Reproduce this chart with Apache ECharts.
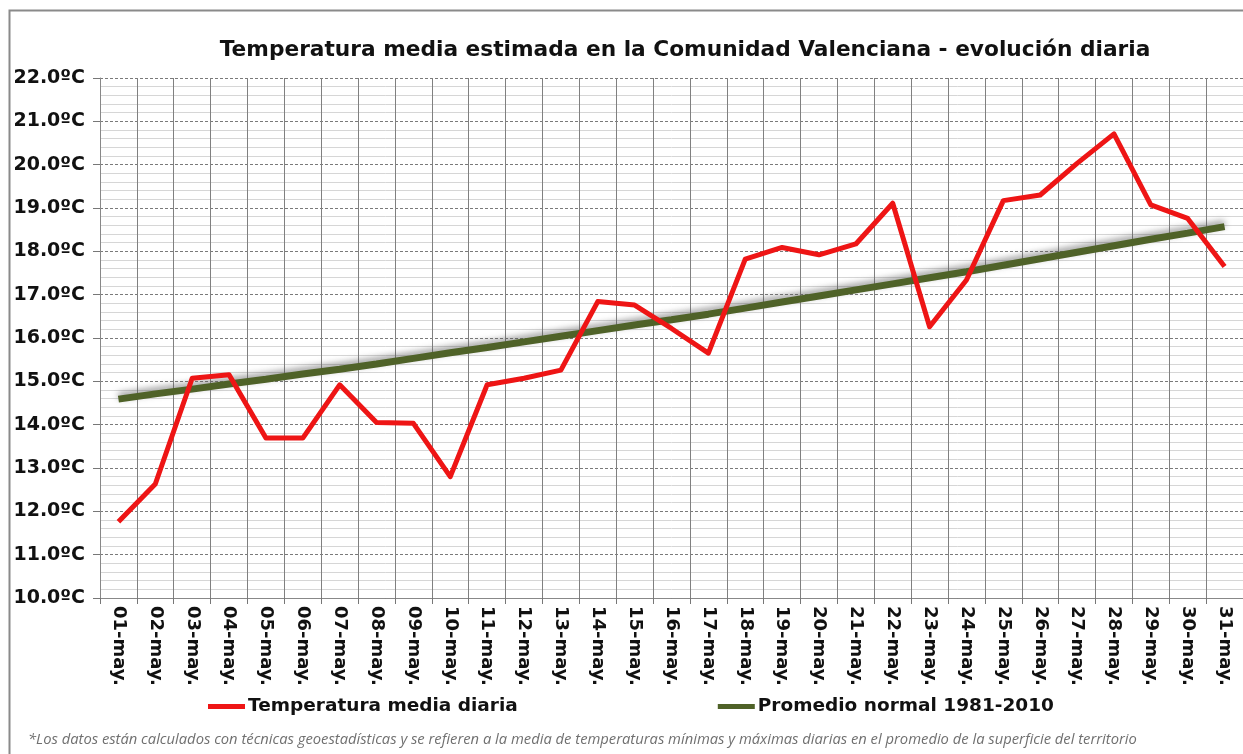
<!DOCTYPE html>
<html>
<head>
<meta charset="utf-8">
<script src="https://cdn.jsdelivr.net/npm/echarts@6/dist/echarts.min.js"></script>
<style>
  html, body { margin: 0; padding: 0; background: #fff; }
  #chart { width: 1243px; height: 754px; }
</style>
</head>
<body>
<div id="chart"></div>
<script>
const days = [
  '01-may.', '02-may.', '03-may.', '04-may.', '05-may.', '06-may.', '07-may.', '08-may.',
  '09-may.', '10-may.', '11-may.', '12-may.', '13-may.', '14-may.', '15-may.', '16-may.',
  '17-may.', '18-may.', '19-may.', '20-may.', '21-may.', '22-may.', '23-may.', '24-may.',
  '25-may.', '26-may.', '27-may.', '28-may.', '29-may.', '30-may.', '31-may.'
];
const dailyMean = [
  11.76, 12.63, 15.07, 15.15, 13.69, 13.69, 14.92, 14.05,
  14.03, 12.80, 14.92, 15.07, 15.26, 16.84, 16.76, 16.22,
  15.65, 17.82, 18.09, 17.92, 18.17, 19.11, 16.26, 17.34,
  19.17, 19.30, 20.03, 20.71, 19.07, 18.76, 17.65
];
const normal8110 = [
  14.59, 14.71, 14.82, 14.94, 15.05, 15.17, 15.28, 15.40,
  15.53, 15.66, 15.78, 15.91, 16.04, 16.17, 16.30, 16.42,
  16.55, 16.69, 16.83, 16.97, 17.11, 17.25, 17.39, 17.53,
  17.68, 17.83, 17.98, 18.13, 18.28, 18.42, 18.57
];
const seriesNames = ['Temperatura media diaria', 'Promedio normal 1981-2010'];
const titleText = 'Temperatura media estimada en la Comunidad Valenciana - evolución diaria';
const footnote = '*Los datos están calculados con técnicas geoestadísticas y se refieren a la media de temperaturas mínimas y máximas diarias en el promedio de la superficie del territorio';

const FONT = 'DejaVu Sans';
const RED = '#ee1515';
const GREEN = '#4f6228';

const chart = echarts.init(document.getElementById('chart'));

const option = {
  backgroundColor: '#fff',
  animation: false,
  title: {
    text: titleText,
    left: 680,
    textAlign: 'center',
    top: 34,
    textStyle: { fontFamily: FONT, fontSize: 21.7, fontWeight: 'bold', color: '#111' }
  },
  legend: {
    data: seriesNames,
    left: 203,
    top: 692,
    itemGap: 200,
    itemWidth: 37,
    itemHeight: 5,
    icon: 'rect',
    textStyle: { fontFamily: FONT, fontSize: 18.5, fontWeight: 'bold', color: '#111', padding: [0, 0, 0, -2] }
  },
  grid: { left: 100, top: 78, width: 1147, height: 520 },
  xAxis: {
    type: 'category',
    data: days,
    boundaryGap: true,
    axisLine: { lineStyle: { color: '#888', width: 1 } },
    axisTick: { show: true, length: 6, lineStyle: { color: '#777' } },
    splitLine: { show: true, interval: 0, lineStyle: { color: '#808080', width: 1 } },
    axisLabel: {
      interval: 0,
      rotate: -90,
      margin: 8,
      fontFamily: FONT,
      fontSize: 18,
      fontWeight: 'bold',
      color: '#111'
    }
  },
  yAxis: {
    type: 'value',
    min: 10,
    max: 22,
    interval: 1,
    axisLine: { show: true, lineStyle: { color: '#888' } },
    axisTick: { show: true, length: 7, lineStyle: { color: '#777' } },
    minorTick: { show: false, splitNumber: 5 },
    minorSplitLine: { show: true, lineStyle: { color: '#d6d6d6', width: 1 } },
    splitLine: { show: true, lineStyle: { color: '#7a7a7a', width: 1, type: [3, 2] } },
    axisLabel: {
      margin: 15,
      fontFamily: FONT,
      fontSize: 19,
      fontWeight: 'bold',
      color: '#111',
      formatter: v => v.toFixed(1) + 'ºC'
    }
  },
  series: [
    {
      name: seriesNames[0],
      type: 'line',
      data: dailyMean,
      symbol: 'none',
      z: 4,
      itemStyle: { color: RED },
      lineStyle: { color: RED, width: 5, join: 'round' }
    },
    {
      name: seriesNames[1],
      type: 'line',
      data: normal8110,
      symbol: 'none',
      z: 3,
      itemStyle: { color: GREEN },
      lineStyle: {
        color: GREEN, width: 7,
        shadowColor: 'rgba(80,80,80,0.55)', shadowBlur: 6, shadowOffsetY: -3
      }
    }
  ],
  graphic: [
    {
      type: 'rect',
      shape: { x: 9.5, y: 10.5, width: 1300, height: 800 },
      style: { fill: 'none', stroke: '#8a8a8a', lineWidth: 2 },
      silent: true
    },
    {
      type: 'text',
      left: 28,
      top: 732,
      style: {
        text: footnote,
        fontFamily: 'Open Sans',
        fontStyle: 'italic',
        fontSize: 14.75,
        fill: '#707070'
      }
    }
  ]
};

chart.setOption(option);
</script>
</body>
</html>
